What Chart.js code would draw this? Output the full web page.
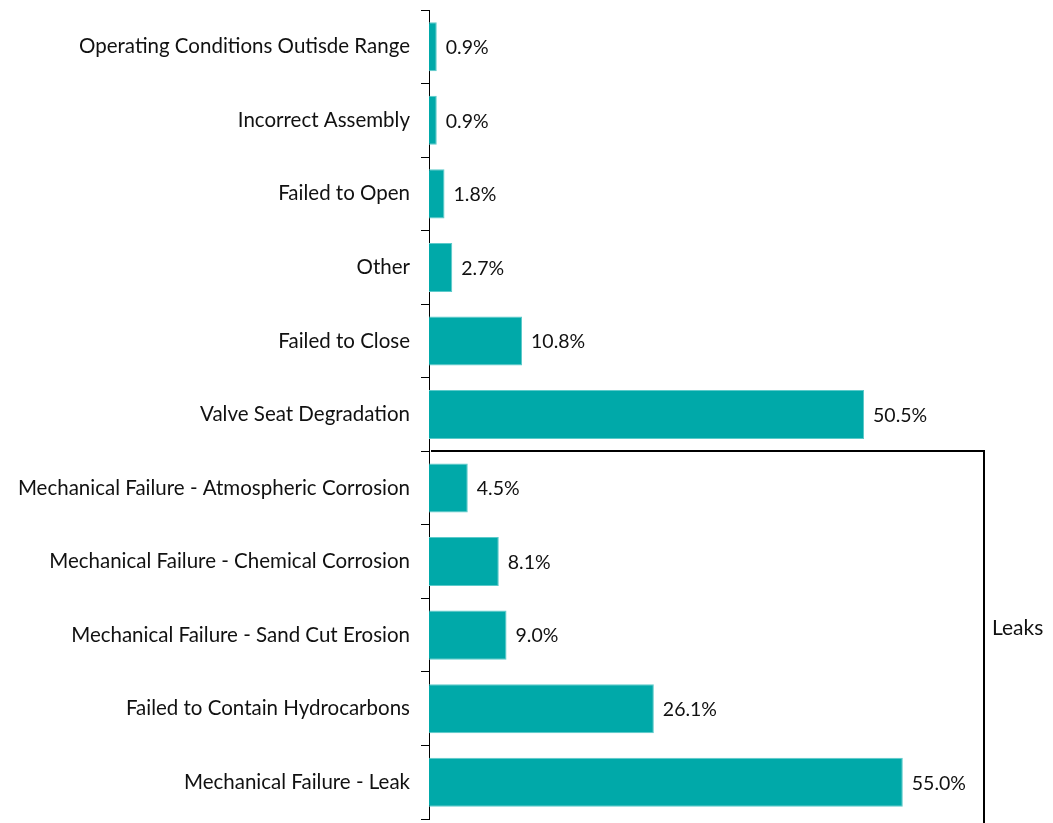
<!DOCTYPE html>
<html>
<head>
<meta charset="utf-8">
<script src="https://cdn.jsdelivr.net/npm/chart.js@4.4.0/dist/chart.umd.min.js"></script>
<style>
html,body{margin:0;padding:0;background:#fff;}
#wrap{width:1053px;height:823px;position:relative;}
</style>
</head>
<body>
<div id="wrap"><canvas id="c"></canvas></div>
<script>
const categories = [
  "Operating Conditions Outisde Range",
  "Incorrect Assembly",
  "Failed to Open",
  "Other",
  "Failed to Close",
  "Valve Seat Degradation",
  "Mechanical Failure - Atmospheric Corrosion",
  "Mechanical Failure - Chemical Corrosion",
  "Mechanical Failure - Sand Cut Erosion",
  "Failed to Contain Hydrocarbons",
  "Mechanical Failure - Leak"
];
const values = [0.9, 0.9, 1.8, 2.7, 10.8, 50.5, 4.5, 8.1, 9.0, 26.1, 55.0];
const groupLabel = "Leaks";
const groupStartIndex = 6;

const FONT = "Lato, 'Open Sans', sans-serif";

const labelPlugin = {
  id: 'barLabels',
  afterDatasetsDraw(chart) {
    const ctx = chart.ctx;
    const meta = chart.getDatasetMeta(0);
    ctx.save();
    ctx.font = "19.5px " + FONT;
    ctx.fillStyle = "#111";
    ctx.textAlign = "left";
    ctx.textBaseline = "middle";
    meta.data.forEach((bar, i) => {
      ctx.fillText(values[i].toFixed(1) + "%", bar.x + 9, bar.y + 1);
    });
    ctx.restore();
  }
};

const bracketPlugin = {
  id: 'bracket',
  afterDraw(chart) {
    const ctx = chart.ctx;
    const xs = chart.scales.x, ys = chart.scales.y;
    const yTop = Math.round(ys.getPixelForValue(groupStartIndex - 0.5)) ;
    const xLeft = xs.getPixelForValue(0) + 2;
    const xRight = Math.round(xs.getPixelForValue(64.4));
    ctx.save();
    ctx.strokeStyle = "#000";
    ctx.lineWidth = 2;
    ctx.beginPath();
    ctx.moveTo(xLeft, yTop);
    ctx.lineTo(xRight, yTop);
    ctx.lineTo(xRight, chart.height);
    ctx.stroke();
    ctx.font = "21px " + FONT;
    ctx.fillStyle = "#111";
    ctx.textAlign = "left";
    ctx.textBaseline = "middle";
    ctx.fillText(groupLabel, xRight + 8, ys.getPixelForValue(7.9));
    ctx.restore();
  }
};

new Chart(document.getElementById('c'), {
  type: 'bar',
  data: {
    labels: categories,
    datasets: [{
      data: values,
      backgroundColor: "#00A9A9",
      borderColor: "#5CCACA",
      borderWidth: 1,
      barPercentage: 0.667,
      categoryPercentage: 1.0
    }]
  },
  options: {
    indexAxis: 'y',
    responsive: true,
    maintainAspectRatio: false,
    animation: false,
    layout: { padding: { top: 10, bottom: 4, right: 21, left: 0 } },
    plugins: { legend: { display: false }, tooltip: { enabled: false } },
    scales: {
      x: { display: false, min: 0, max: 70 },
      y: {
        offset: true,
        afterFit(scale) { scale.width = 429; scale.paddingTop = 0; scale.paddingBottom = 0; },
        grid: { drawOnChartArea: false, drawTicks: true, tickLength: 8, color: "#000", offset: true },
        border: { display: true, color: "#000", width: 1 },
        ticks: { color: "#111", font: { family: FONT, size: 20.5 }, padding: 11, autoSkip: false }
      }
    }
  },
  plugins: [labelPlugin, bracketPlugin]
});
</script>
</body>
</html>
